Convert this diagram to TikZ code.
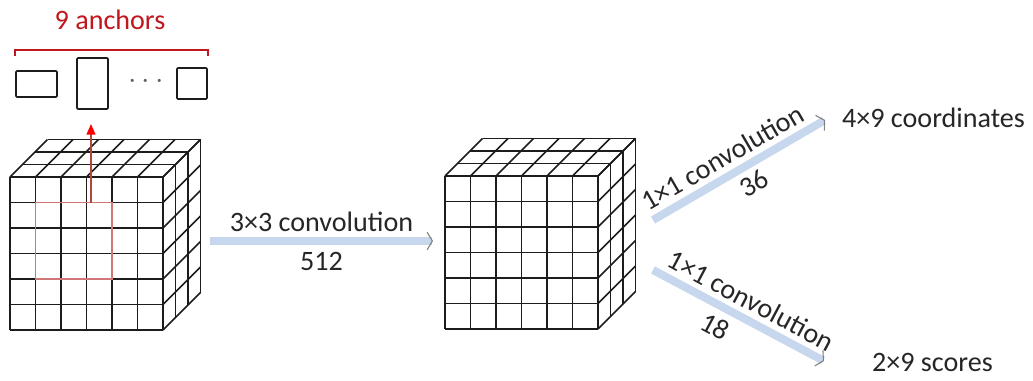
\documentclass[tikz,border=0pt]{standalone}
\usepackage{fontspec}
\setmainfont{Carlito}
\usetikzlibrary{arrows.meta,calc,positioning}
\definecolor{AnchorRed}{HTML}{C0161E}
\definecolor{WinRed}{HTML}{D07878}
\definecolor{WinArrow}{HTML}{B4473A}
\definecolor{ArrowBlue}{HTML}{C6D7EE}
\definecolor{InkDark}{HTML}{1C1C1C}
\definecolor{TextDark}{HTML}{262626}
\tikzset{
  cubeline/.style={line width=0.9pt, draw=InkDark},
  winline/.style={line width=0.8pt, draw=WinRed},
  winarrow/.style={line width=0.8pt, draw=WinArrow, -{Triangle[length=6pt,width=5pt,color=red]}},
  bracketline/.style={line width=1.3pt, draw=AnchorRed},
  anchorbox/.style={draw=InkDark, line width=0.9pt, rounded corners=0.6pt, inner sep=0pt},
  convarrow/.style={line width=4.6pt, draw=ArrowBlue,
    -{Straight Barb[length=3pt,width=10pt,line width=0.6pt,color=gray]}},
  lbl/.style={font=\fontsize{16}{19}\selectfont, text=TextDark, inner sep=1pt},
  cube/.pic={
    % front face and the depth edges
    \foreach \i in {0,...,6} {
      \draw[cubeline] (\i*25.5,0) -- (\i*25.5,153);
      \draw[cubeline] (0,\i*25.5) -- (153,\i*25.5);
      \draw[cubeline] (\i*25.5,153) -- ++(37.5,37.5);
      \draw[cubeline] (153,\i*25.5) -- ++(37.5,37.5);
    }
    % layers on top and right side
    \foreach \k in {1,2,3} {
      \draw[cubeline] (\k*12.5,153+\k*12.5) -- ++(153,0);
      \draw[cubeline] (153+\k*12.5,\k*12.5) -- ++(0,153);
    }
    \coordinate (-in) at (-12,88);
    \coordinate (-out) at (200,89);
    \coordinate (-up) at (208,109);
    \coordinate (-dn) at (208,59);
  },
}
\begin{document}
\begin{tikzpicture}[x=0.02cm, y=0.02cm]
\useasboundingbox (0,0) rectangle (1033,380);
\pic (fmap) at (10,50) {cube};
\pic (conv) at (445,51) {cube};
% sliding window on the feature map
\draw[winline] (35.5,101) rectangle (112,177.5);
\coordinate (win) at (91,177.5);
% anchors
\node[lbl, text=AnchorRed] (nanch) at (110,360) {9 anchors};
\draw[bracketline] (15,324) -- (15,330) -- (208,330) -- (208,324);
\node[anchorbox, minimum width=0.82cm, minimum height=0.52cm] (box1) at (36.5,296) {};
\node[anchorbox, minimum width=0.62cm, minimum height=1.02cm] (box2) at (92.5,296.5) {};
\node[lbl, text=InkDark!70] (dots) at (146,298) {$\cdots$};
\node[anchorbox, minimum width=0.60cm, minimum height=0.62cm] (box3) at (192,296.5) {};
\coordinate (anc) at (91,256);
\draw[winarrow] (win) -- (anc);
% outputs
\node[lbl, anchor=west] (coords) at (840,262) {4×9 coordinates};
\node[lbl, anchor=west] (scores) at (870,18) {2×9 scores};
\draw[convarrow] (fmap-out) -- (conv-in)
  node[lbl, midway, above=2pt] (c3) {3×3 convolution}
  node[lbl, midway, below=3pt] (n512) {512};
\draw[convarrow] (conv-up) -- ($(coords.west)+(-15,-2)$)
  node[lbl, pos=0.46, sloped, above=2pt] (c1a) {1×1 convolution}
  node[lbl, pos=0.53, sloped, below=2pt] (n36) {36};
\draw[convarrow] (conv-dn) -- ($(scores.west)+(-46,1)$)
  node[lbl, pos=0.52, sloped, above=2pt] (c1b) {1×1 convolution}
  node[lbl, pos=0.42, sloped, below=3pt] (n18) {18};
\end{tikzpicture}
\end{document}
